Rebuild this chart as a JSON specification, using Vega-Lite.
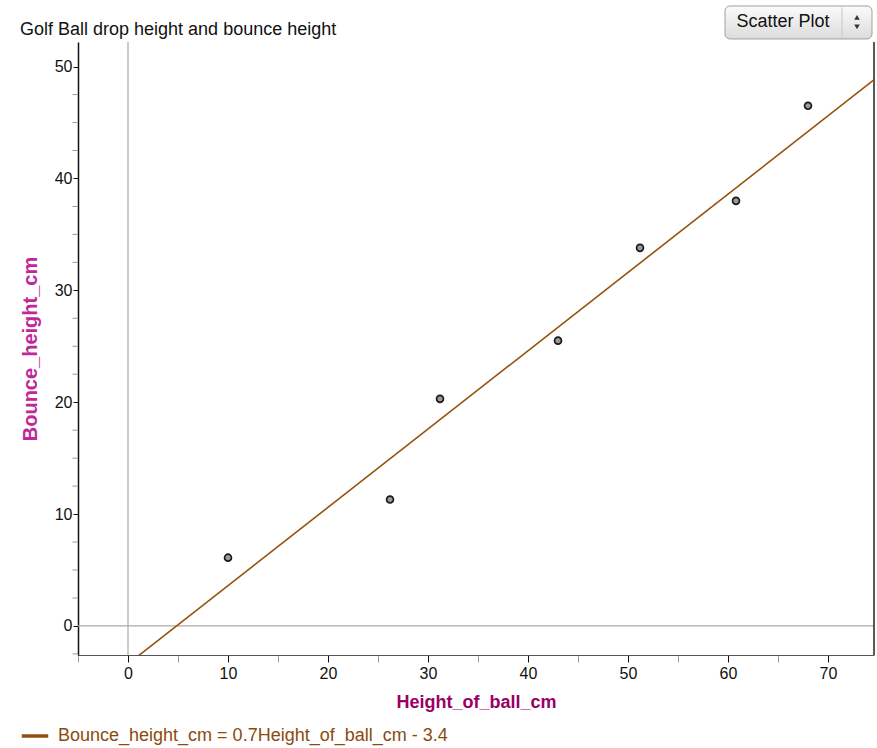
{
  "$schema": "https://vega.github.io/schema/vega-lite/v6.json",
  "autosize": "none",
  "width": 796,
  "height": 613,
  "padding": {"left": 78, "top": 42, "right": 3, "bottom": 93},
  "background": "white",
  "title": {
    "text": "Golf Ball drop height and bounce height",
    "anchor": "start",
    "frame": "group",
    "dx": -58,
    "dy": 40,
    "offset": 6,
    "font": "Liberation Sans",
    "fontSize": 18,
    "fontWeight": "normal",
    "color": "#111"
  },
  "config": {
    "view": {"stroke": null},
    "axis": {
      "labelFont": "Liberation Sans",
      "labelFontSize": 16,
      "labelColor": "#111",
      "labelOverlap": false,
      "titleFont": "Liberation Sans",
      "titleFontWeight": "bold",
      "grid": false
    }
  },
  "datasets": {
    "bounce": [
      {"drop": 10.0, "bounce": 6.1},
      {"drop": 26.2, "bounce": 11.3},
      {"drop": 31.2, "bounce": 20.3},
      {"drop": 43.0, "bounce": 25.5},
      {"drop": 51.2, "bounce": 33.8},
      {"drop": 60.8, "bounce": 38.0},
      {"drop": 68.0, "bounce": 46.5}
    ],
    "fit": [
      {"drop": 1, "bounce": -2.7, "eq": "Bounce_height_cm = 0.7Height_of_ball_cm - 3.4"},
      {"drop": 75, "bounce": 49.1, "eq": "Bounce_height_cm = 0.7Height_of_ball_cm - 3.4"}
    ],
    "minorY": [
      {"v": -2.5}, {"v": 2.5}, {"v": 5}, {"v": 7.5}, {"v": 12.5}, {"v": 15}, {"v": 17.5},
      {"v": 22.5}, {"v": 25}, {"v": 27.5}, {"v": 32.5}, {"v": 35}, {"v": 37.5},
      {"v": 42.5}, {"v": 45}, {"v": 47.5}
    ]
  },
  "layer": [
    {
      "data": {"values": [{}]},
      "mark": {"type": "rule", "color": "#aaaaaa", "strokeWidth": 1.2},
      "encoding": {
        "x": {"datum": 0, "type": "quantitative", "scale": {"domain": [-5, 74.6], "nice": false, "zero": false}}
      }
    },
    {
      "data": {"values": [{}]},
      "mark": {"type": "rule", "color": "#aaaaaa", "strokeWidth": 1.2},
      "encoding": {
        "y": {"datum": 0, "type": "quantitative", "scale": {"domain": [-2.6, 52.2], "nice": false, "zero": false}}
      }
    },
    {
      "data": {"values": [{}]},
      "mark": {"type": "rule", "color": "#222", "strokeWidth": 1.5},
      "encoding": {
        "x": {"datum": 74.6, "type": "quantitative"}
      }
    },
    {
      "data": {"name": "minorY"},
      "mark": {"type": "tick", "orient": "horizontal", "clip": false, "color": "#999", "size": 5, "thickness": 1, "xOffset": -3, "opacity": 1},
      "encoding": {
        "x": {"datum": -5, "type": "quantitative"},
        "y": {"field": "v", "type": "quantitative"}
      }
    },
    {
      "data": {"name": "fit"},
      "mark": {"type": "line", "strokeWidth": 1.6, "clip": true},
      "encoding": {
        "x": {"field": "drop", "type": "quantitative"},
        "y": {"field": "bounce", "type": "quantitative"},
        "color": {
          "field": "eq",
          "type": "nominal",
          "scale": {"range": ["#95520f"]},
          "legend": {
            "title": null,
            "orient": "none",
            "legendX": -58,
            "legendY": 679,
            "symbolType": "stroke",
            "symbolSize": 700,
            "symbolStrokeWidth": 3.5,
            "labelFont": "Liberation Sans",
            "labelFontSize": 18,
            "labelColor": "#8a4b0f",
            "labelLimit": 700,
            "labelOffset": 8
          }
        }
      }
    },
    {
      "data": {"name": "bounce"},
      "mark": {"type": "point", "filled": true, "fill": "#9a9a9a", "stroke": "#1a1a1a", "strokeWidth": 1.7, "size": 48, "opacity": 1},
      "encoding": {
        "x": {
          "field": "drop",
          "type": "quantitative",
          "title": "Height_of_ball_cm",
          "axis": {
            "values": [-5, -2.5, 0, 2.5, 5, 7.5, 10, 12.5, 15, 17.5, 20, 22.5, 25, 27.5, 30, 32.5, 35, 37.5, 40, 42.5, 45, 47.5, 50, 52.5, 55, 57.5, 60, 62.5, 65, 67.5, 70, 72.5],
            "labelExpr": "datum.value % 10 === 0 ? datum.label : ''",
            "labelOverlap": false,
            "tickColor": {"condition": {"test": "datum.value % 10 === 0", "value": "#111"}, "value": "#999"},
            "tickSize": 7,
            "domainColor": "#555",
            "titleColor": "#990066",
            "titleFontSize": 18,
            "titlePadding": 12,
            "labelPadding": 3
          }
        },
        "y": {
          "field": "bounce",
          "type": "quantitative",
          "title": "Bounce_height_cm",
          "axis": {
            "values": [0, 10, 20, 30, 40, 50],
            "labelOverlap": false,
            "tickSize": 5,
            "tickColor": "#111",
            "domainColor": "#111",
            "domainWidth": 1.5,
            "titleColor": "#c0289a",
            "titleFontSize": 20,
            "titlePadding": 14,
            "labelPadding": 1
          }
        }
      }
    },
    {
      "data": {"values": [{"x1": 59.7, "x2": 74.4, "y1": 52.47, "y2": 55.42}]},
      "mark": {
        "type": "rect",
        "clip": false,
        "cornerRadius": 5,
        "stroke": "#a0a0a0",
        "strokeWidth": 1,
        "fill": {"gradient": "linear", "x1": 0, "y1": 0, "x2": 0, "y2": 1, "stops": [{"offset": 0, "color": "#fbfbfb"}, {"offset": 1, "color": "#dcdcdc"}]}
      },
      "encoding": {
        "x": {"field": "x1", "type": "quantitative"},
        "x2": {"field": "x2"},
        "y": {"field": "y1", "type": "quantitative"},
        "y2": {"field": "y2"}
      }
    },
    {
      "data": {"values": [{"x": 71.4, "y1": 52.6, "y2": 55.3}]},
      "mark": {"type": "rule", "clip": false, "color": "#c8c8c8"},
      "encoding": {
        "x": {"field": "x", "type": "quantitative"},
        "y": {"field": "y1", "type": "quantitative"},
        "y2": {"field": "y2"}
      }
    },
    {
      "data": {"values": [{"x": 72.9, "y": 54.4, "s": "triangle-up"}, {"x": 72.9, "y": 53.55, "s": "triangle-down"}]},
      "mark": {"type": "point", "filled": true, "clip": false, "color": "#333", "size": 30, "opacity": 1},
      "encoding": {
        "x": {"field": "x", "type": "quantitative"},
        "y": {"field": "y", "type": "quantitative"},
        "shape": {"field": "s", "type": "nominal", "scale": null, "legend": null}
      }
    },
    {
      "data": {"values": [{"x": 65.5, "y": 53.95, "label": "Scatter Plot"}]},
      "mark": {"type": "text", "clip": false, "font": "Liberation Sans", "fontSize": 18, "color": "#111", "baseline": "middle", "align": "center"},
      "encoding": {
        "x": {"field": "x", "type": "quantitative"},
        "y": {"field": "y", "type": "quantitative"},
        "text": {"field": "label"}
      }
    }
  ]
}
